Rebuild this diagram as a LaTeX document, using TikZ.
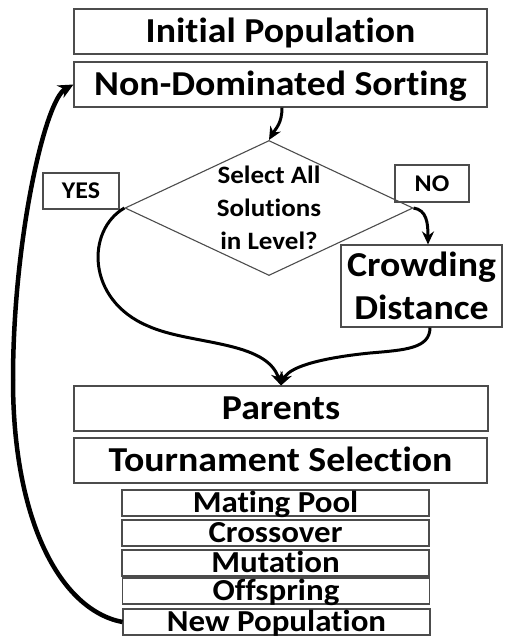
\documentclass[tikz,border=0pt]{standalone}
\usepackage{fontspec}
\setmainfont{Carlito}[FakeStretch=1.08,Ligatures=NoCommon]
\usetikzlibrary{arrows.meta,shapes.geometric}
\begin{document}
\begin{tikzpicture}[x=1pt,y=-1pt,
  boxline/.style={draw=black!70,line width=1.1pt,inner sep=0pt},
  bigbox/.style={boxline,minimum width=413pt,minimum height=45pt,
    font=\fontsize{35}{38}\selectfont\bfseries,text height=22pt,text depth=0pt},
  smallbox/.style={boxline,minimum width=307pt,minimum height=26pt,
    font=\fontsize{30.5}{32}\selectfont\bfseries,text height=19.6pt,text depth=0pt},
  tagbox/.style={boxline,font=\fontsize{24}{26}\selectfont\bfseries,text height=15.5pt,text depth=0pt},
  decbox/.style={boxline,diamond,minimum width=288pt,minimum height=135pt},
  dectext/.style={font=\fontsize{25}{33}\selectfont\bfseries,align=center,inner sep=0pt},
  crowdbox/.style={boxline,minimum width=161pt,minimum height=82pt,
    font=\fontsize{35}{43}\selectfont\bfseries,align=center},
  conn/.style={draw=black,line width=3pt,-{Stealth[length=13pt,width=12pt]}},
  loopconn/.style={draw=black,line width=4.5pt,-{Stealth[length=15pt,width=14pt]}},
  flow/.style={draw=black,line width=3pt},
  loopflow/.style={draw=black,line width=4.5pt}
]
\useasboundingbox (0,0) rectangle (506,636);

\node[bigbox] (init) at (280.5,31.5) {Initial Population};
\node[bigbox] (nds) at (280.5,84.5) {Non-Dominated Sorting};
\node[decbox] (dec) at (269,208) {};
\node[dectext] (dect) at (dec.center) {Select All\\Solutions\\in Level?};
\node[tagbox,minimum width=76pt,minimum height=36pt] (yes) at (81,191) {YES};
\node[tagbox,minimum width=74pt,minimum height=37pt] (no) at (432,183.5) {NO};
\node[crowdbox] (crowd) at (421.5,286) {Crowding\\Distance};
\node[bigbox,minimum width=414pt] (parents) at (281,408.5) {Parents};
\node[bigbox] (tourn) at (280.5,460.5) {Tournament Selection};
\node[smallbox] (mating) at (275.5,503) {Mating Pool};
\node[smallbox] (cross) at (275.5,533) {Crossover};
\node[smallbox] (mut) at (275.5,563) {Mutation};
\node[smallbox] (off) at (276,591) {Offspring};
\node[smallbox] (newpop) at (276.5,622) {New Population};

\coordinate (ndsout) at ([xshift=1.5pt]nds.south);
\coordinate (crowdin) at ([xshift=6.5pt]crowd.north);
\coordinate (crowdout) at ([xshift=8.5pt]crowd.south);
\coordinate (yesmid) at (148,326);
\coordinate (nomid) at (370,353);
\coordinate (loopmid) at (13,380);

\draw[conn] (ndsout) .. controls +(0,16) and +(7,-12) .. (dec.north);
\draw[conn] (dec.east) .. controls +(13,2) and +(0,-22) .. (crowdin);
\draw[flow] (dec.west) .. controls (86,230) and (86,300) .. (yesmid);
\draw[conn] (yesmid) .. controls (190,345) and (266,340) .. (parents.north);
\draw[flow] (crowdout) .. controls +(0,21) and (405,350) .. (nomid);
\draw[conn] (nomid) .. controls (330,357) and (290,365) .. (parents.north);
\draw[loopflow] (newpop.west) .. controls (60,610) and (13,520) .. (loopmid);
\draw[loopconn] (loopmid) .. controls (13,240) and (45,100) .. (nds.west);
\end{tikzpicture}
\end{document}
